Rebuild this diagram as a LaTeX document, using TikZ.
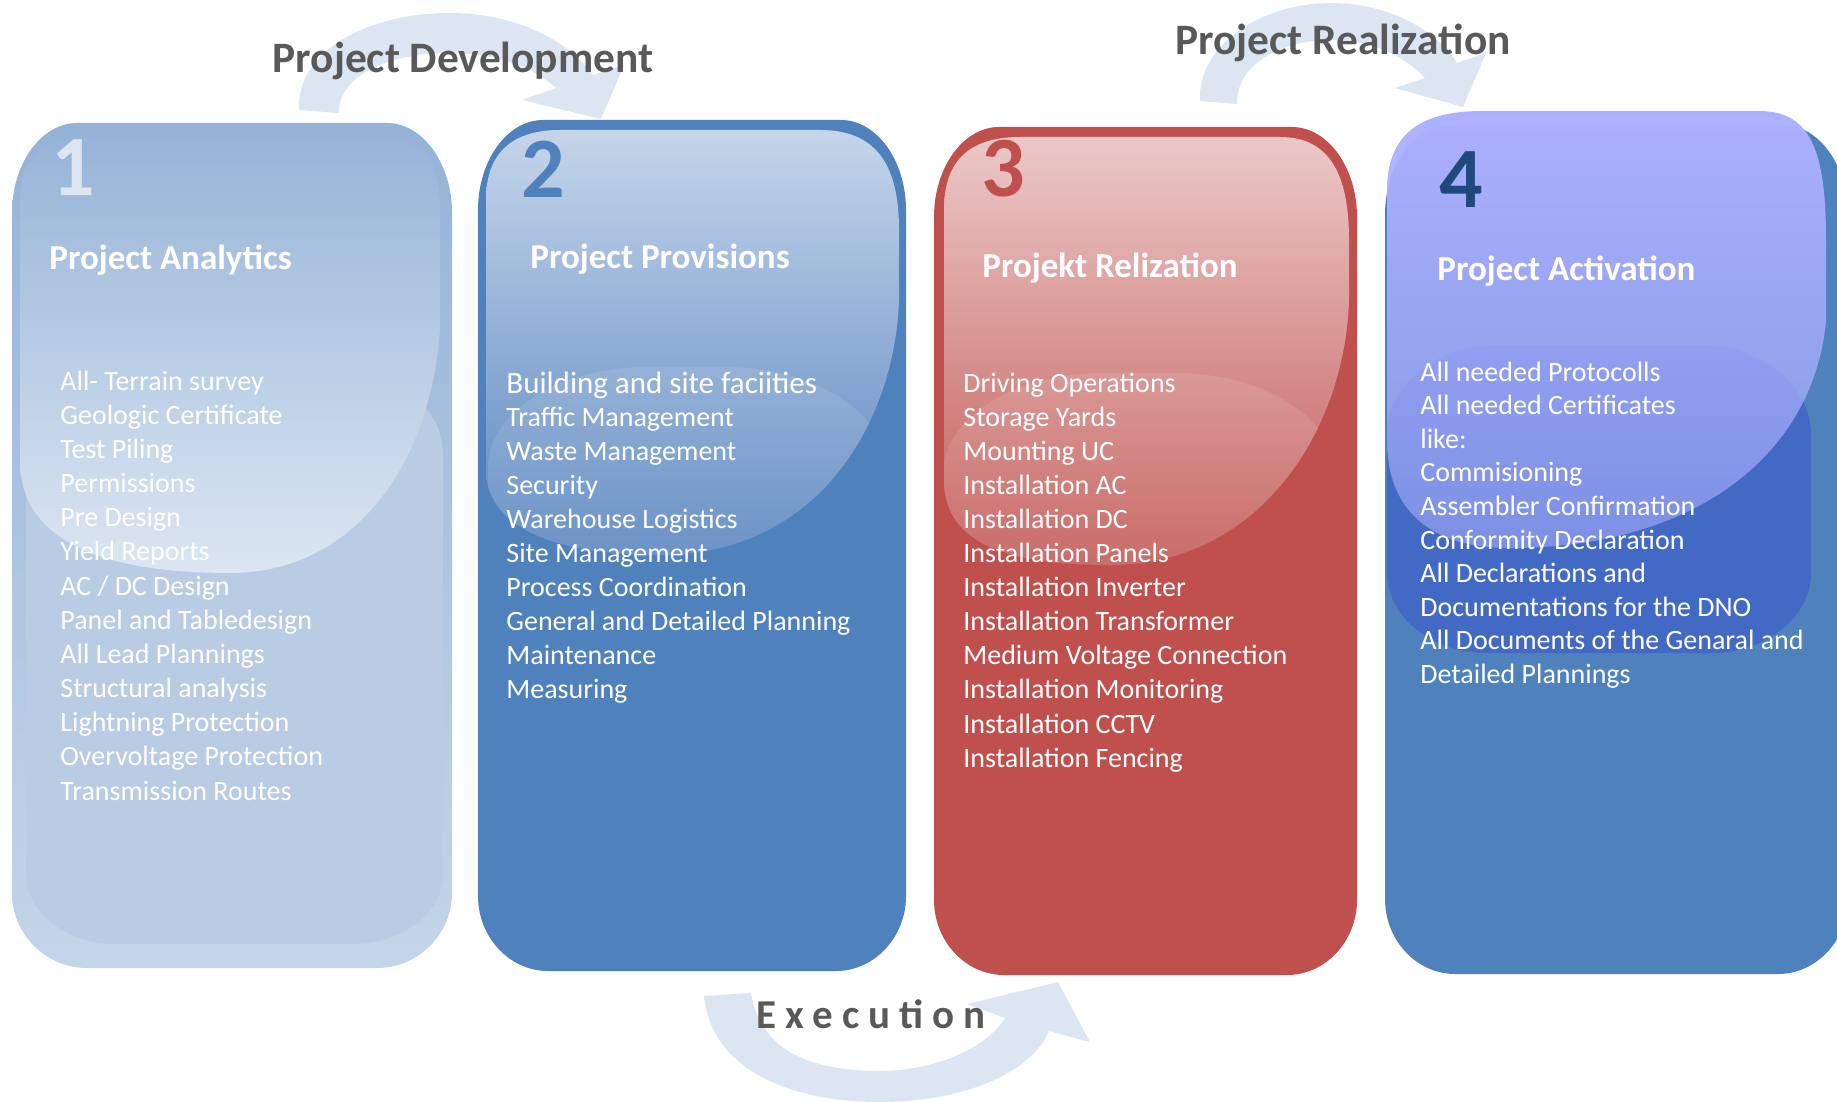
\documentclass[tikz,border=0pt]{standalone}
\usepackage{fontspec}
\setmainfont{Carlito}
\usetikzlibrary{fadings}
\definecolor{arrowc}{HTML}{DCE6F2}
\definecolor{labelc}{HTML}{595959}
\definecolor{bOneTop}{HTML}{95B3D7}
\definecolor{bOneBot}{HTML}{C5D5E9}
\definecolor{bOneRef}{HTML}{B9CCE4}
\definecolor{gOneTop}{HTML}{96B4D8}
\definecolor{gOneMid}{HTML}{AFC4E2}
\definecolor{gOneBot}{HTML}{DCE6F2}
\definecolor{blueBase}{HTML}{4F81BD}
\definecolor{gTwoTop}{HTML}{C5D5EA}
\definecolor{gTwoMid}{HTML}{ADC2E0}
\definecolor{gTwoBot}{HTML}{5B87C1}
\definecolor{redBase}{HTML}{C0504D}
\definecolor{gThreeTop}{HTML}{EBC9C8}
\definecolor{gThreeMid}{HTML}{DCA4A2}
\definecolor{gThreeBot}{HTML}{C45C59}
\definecolor{lav}{HTML}{ADB0FF}
\definecolor{refFour}{HTML}{426AC4}
\definecolor{numOne}{HTML}{DCE6F2}
\definecolor{numTwo}{HTML}{4F81BD}
\definecolor{numThree}{HTML}{C0504D}
\definecolor{numFour}{HTML}{1F497D}
\tikzfading[name=glossfade, top color=transparent!0, middle color=transparent!10, bottom color=transparent!45]
% rounded box: style, x0, y0, x1, y1, rx top, ry top, rx bottom, ry bottom
\newcommand\rrect[9]{\path[#1] (#2,{#3+#7}) .. controls (#2,{#3+0.45*#7}) and ({#2+0.45*#6},#3) .. ({#2+#6},#3) -- ({#4-#6},#3) .. controls ({#4-0.45*#6},#3) and (#4,{#3+0.45*#7}) .. (#4,{#3+#7}) -- (#4,{#5-#9}) .. controls (#4,{#5-0.45*#9}) and ({#4-0.45*#8},#5) .. ({#4-#8},#5) -- ({#2+#8},#5) .. controls ({#2+0.45*#8},#5) and (#2,{#5-0.45*#9}) .. (#2,{#5-#9}) -- cycle;}
\newcommand\glossTwo{(486,200) .. controls (486,160) and (505,130) .. (560,130) -- (820,130) .. controls (880,130) and (899,170) .. (899,230) -- (899,300) .. controls (895,420) and (820,555) .. (660,555) .. controls (540,555) and (486,520) .. (486,470) -- cycle}
\newcommand\glossThree{(944,210) .. controls (944,165) and (965,137) .. (1020,137) -- (1280,137) .. controls (1330,137) and (1349,175) .. (1349,240) -- (1349,300) .. controls (1345,430) and (1260,565) .. (1110,565) .. controls (1000,565) and (944,540) .. (944,480) -- cycle}
\tikzset{
  item/.style={anchor=base west, inner sep=0pt, text=white, font=\fontsize{14}{17}\selectfont},
  bigitem/.style={anchor=base west, inner sep=0pt, text=white, font=\fontsize{15.5}{18}\selectfont},
  boxtitle/.style={anchor=base west, inner sep=0pt, text=white, font=\fontsize{17.5}{21}\selectfont\bfseries},
  num/.style={anchor=base west, inner sep=0pt, font=\fontsize{43}{50}\selectfont\bfseries},
  phase/.style={anchor=base, inner sep=0pt, text=labelc, font=\fontsize{21.7}{26}\selectfont\bfseries},
  arrowshape/.style={fill=arrowc},
  reflect/.style={fill=white, fill opacity=0.1}
}
\begin{document}
\begin{tikzpicture}[x=0.5pt,y=-0.5pt]
\useasboundingbox (0,0) rectangle (1837,1102);
\begin{scope}
\clip (0,0) rectangle (1837,1102);
% curved arrows
\fill[arrowshape] (299,110) .. controls (296,50) and (370,13) .. (449,13) .. controls (515,13) and (568,40) .. (593,75) -- (624,65) -- (601,119) -- (522,100) -- (556,88) .. controls (532,66) and (495,53) .. (449,53) .. controls (390,53) and (338,75) .. (339,113) -- cycle;
\fill[arrowshape] (1200,101) .. controls (1197,45) and (1262,3) .. (1331,3) .. controls (1388,3) and (1437,30) .. (1457,63) -- (1486,53) -- (1463,107) -- (1395,88) -- (1425,78) .. controls (1404,55) and (1370,40) .. (1331,40) .. controls (1280,40) and (1236,65) .. (1237,104) -- cycle;
\fill[arrowshape] (704,996) .. controls (712,1075) and (800,1102) .. (879,1102) .. controls (960,1102) and (1030,1075) .. (1049,1031) -- (1090,1042) -- (1058,982) -- (967,1004) -- (1005,1018) .. controls (985,1050) and (932,1071) .. (879,1071) .. controls (810,1071) and (760,1050) .. (751,993) -- cycle;
% box 1
\rrect{shade, top color=bOneTop, bottom color=bOneBot}{12}{123}{452}{968}{65}{90}{75}{75}
\rrect{fill=bOneRef}{26}{373}{443}{944}{100}{80}{90}{70}
\shade[top color=gOneTop, middle color=gOneMid, bottom color=gOneBot] (20,200) .. controls (20,160) and (40,135) .. (90,135) -- (380,135) .. controls (425,135) and (440,165) .. (440,210) -- (440,330) .. controls (430,470) and (350,573) .. (230,573) .. controls (100,573) and (20,540) .. (20,460) -- cycle;
% box 2
\rrect{fill=blueBase}{478}{120}{906}{971}{65}{90}{70}{75}
\shade[top color=gTwoTop, middle color=gTwoMid, bottom color=gTwoBot] \glossTwo;
\begin{scope}
\clip \glossTwo;
\rrect{reflect}{488}{367}{885}{960}{160}{100}{80}{80}
\end{scope}
% box 3
\rrect{fill=redBase}{934}{127}{1357}{975}{65}{90}{70}{75}
\shade[top color=gThreeTop, middle color=gThreeMid, bottom color=gThreeBot] \glossThree;
\begin{scope}
\clip \glossThree;
\rrect{reflect}{943}{373}{1335}{960}{160}{100}{80}{80}
\end{scope}
% box 4
\rrect{fill=blueBase}{1385}{125}{1848}{974}{65}{90}{70}{75}
\rrect{fill=refFour}{1387}{345}{1811}{653}{110}{90}{100}{80}
\fill[lav, path fading=glossfade] (1387,190) .. controls (1387,135) and (1420,111) .. (1480,111) -- (1760,111) .. controls (1810,111) and (1826,150) .. (1826,240) -- (1826,320) .. controls (1815,450) and (1700,548) .. (1510,548) .. controls (1430,548) and (1387,510) .. (1387,440) -- cycle;
\end{scope}
% phase labels
\node[phase] (pdev) at (463,73) {Project Development};
\node[phase] (preal) at (1343,55) {Project Realization};
\node[phase, font=\fontsize{20.5}{24}\selectfont\bfseries] (pexec) at (871,1028) {\addfontfeatures{LetterSpace=22}Execution};
% numbers
\node[num, text=numOne] (n1) at (51,196) {1};
\node[num, text=numTwo] (n2) at (521,198) {2};
\node[num, text=numThree] (n3) at (981,197) {3};
\node[num, text=numFour] (n4) at (1439,207) {4};
% titles
\node[boxtitle] (t1) at (49,269) {Project Analytics};
\node[boxtitle] (t2) at (530,268) {Project Provisions};
\node[boxtitle] (t3) at (982,277) {Projekt Relization};
\node[boxtitle] (t4) at (1437,280) {Project Activation};
% lists
\foreach \t [count=\i] in {All- Terrain survey, Geologic Certificate, Test Piling, Permissions, Pre Design, Yield Reports, AC / DC Design, Panel and Tabledesign, All Lead Plannings, Structural analysis, Lightning Protection, Overvoltage Protection, Transmission Routes}
  \node[item] (a\i) at (60,{390+(\i-1)*34.17}) {\t};
\node[bigitem] (b1) at (506,393) {Building and site faciities};
\foreach \t [count=\i from 2] in {Traffic Management, Waste Management, Security, Warehouse Logistics, Site Management, Process Coordination, General and Detailed Planning, Maintenance, Measuring}
  \node[item] (b\i) at (506,{426+(\i-2)*34.0}) {\t};
\foreach \t [count=\i] in {Driving Operations, Storage Yards, Mounting UC, Installation AC, Installation DC, Installation Panels, Installation Inverter, Installation Transformer, Medium Voltage Connection, Installation Monitoring, Installation CCTV, Installation Fencing}
  \node[item] (c\i) at (963,{392+(\i-1)*34.1}) {\t};
\foreach \t [count=\i] in {All needed Protocolls, All needed Certificates, like:, Commisioning, Assembler Confirmation, Conformity Declaration, All Declarations and, Documentations for the DNO, All Documents of the Genaral and, Detailed Plannings}
  \node[item] (d\i) at (1420,{381+(\i-1)*33.6}) {\t};
\end{tikzpicture}
\end{document}
